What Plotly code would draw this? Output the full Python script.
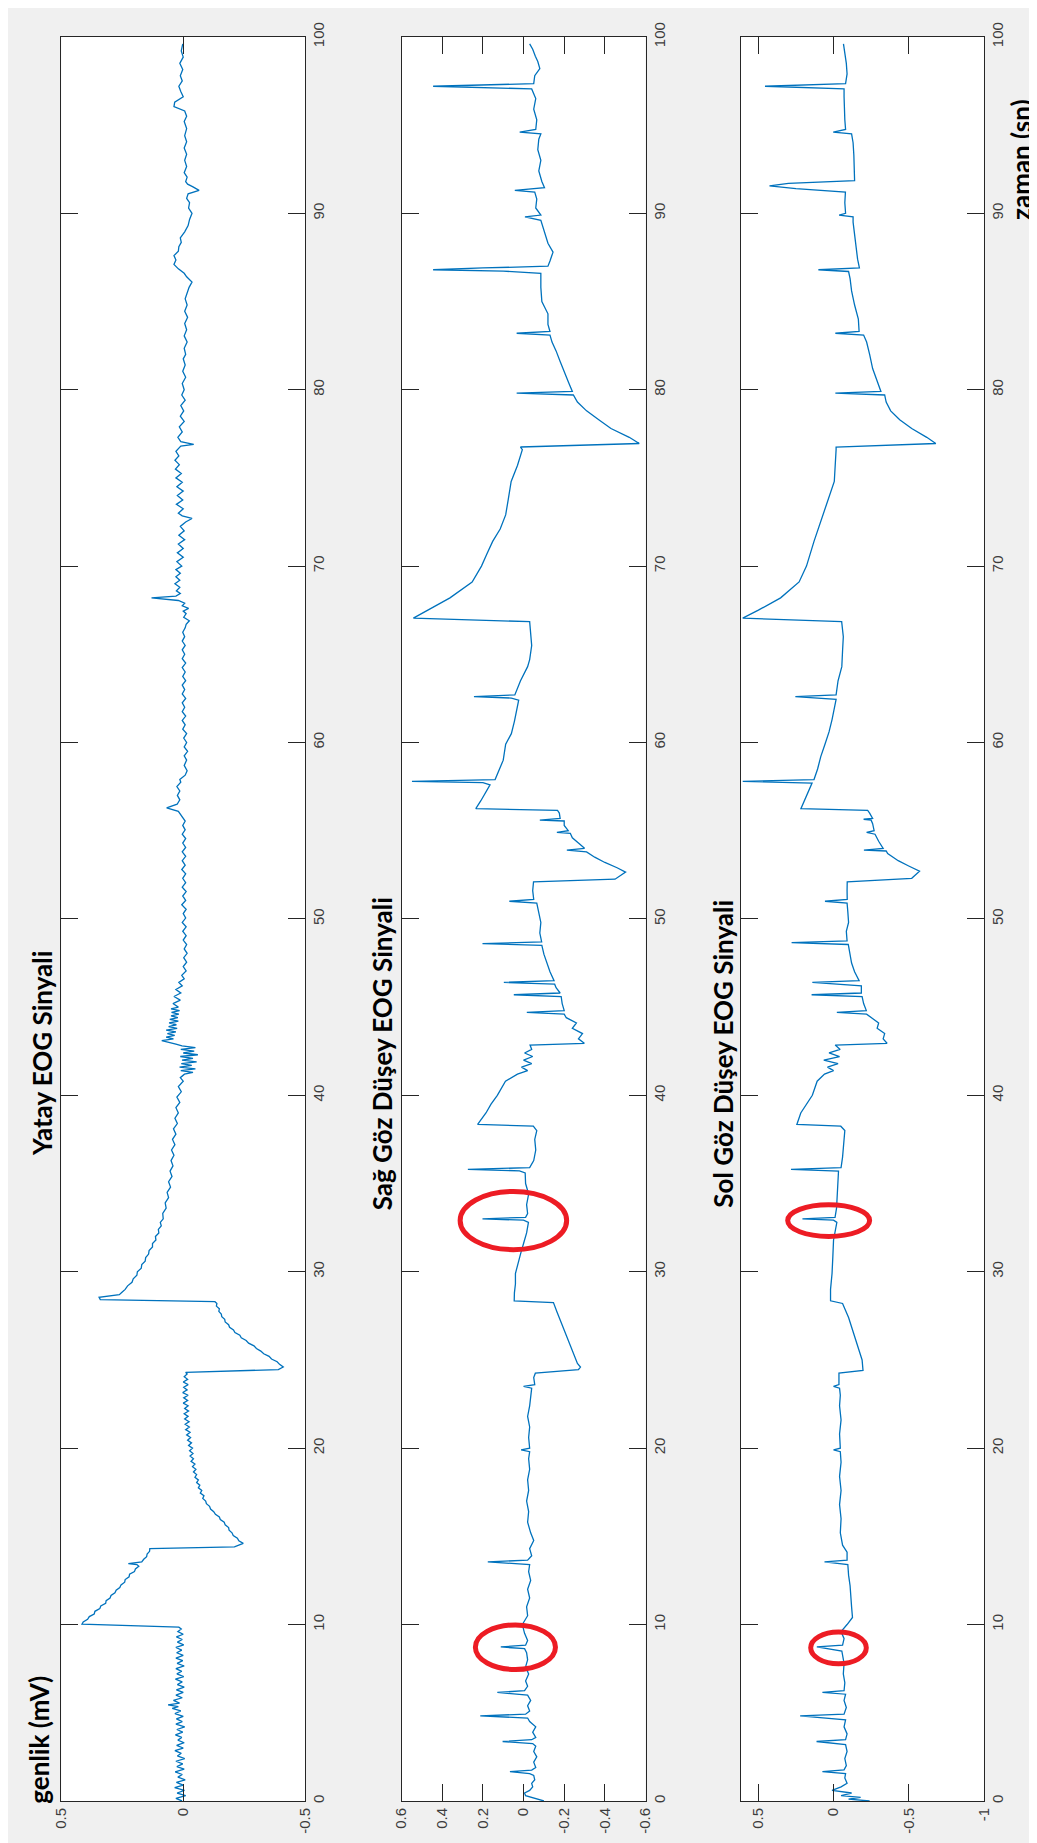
import plotly.graph_objects as go

# ---------------- data (time in s, amplitude in mV) ----------------
yatay_points = [
    (0.0, 0.005), (0.15, 0.03), (0.3, -0.01), (0.45, 0.025), (0.6, -0.005), (0.75, 0.035), (0.9, 0.0),
    (1.05, 0.028), (1.2, -0.008), (1.35, 0.022), (1.5, 0.004), (1.65, 0.033), (1.8, -0.004), (1.95, 0.026),
    (2.1, 0.002), (2.25, 0.03), (2.4, -0.006), (2.55, 0.024), (2.7, 0.008), (2.85, 0.034), (3.0, 0.0),
    (3.15, 0.027), (3.3, -0.004), (3.45, 0.022), (3.6, 0.006), (3.75, 0.032), (3.9, 0.002), (4.05, 0.026),
    (4.2, -0.006), (4.35, 0.03), (4.5, 0.004), (4.65, 0.028), (4.8, 0.0), (4.95, 0.034), (5.1, 0.01),
    (5.25, 0.045), (5.35, 0.02), (5.45, 0.062), (5.55, 0.015), (5.7, 0.04), (5.85, 0.004), (6.0, 0.03),
    (6.15, 0.0), (6.3, 0.028), (6.45, -0.004), (6.6, 0.024), (6.75, 0.004), (6.9, 0.032), (7.05, -0.002),
    (7.2, 0.026), (7.35, 0.006), (7.5, 0.03), (7.65, -0.004), (7.8, 0.025), (7.95, 0.002), (8.1, 0.03),
    (8.25, 0.0), (8.4, 0.027), (8.55, 0.006), (8.7, 0.03), (8.85, -0.002), (9.0, 0.024), (9.15, 0.004),
    (9.3, 0.028), (9.45, 0.0), (9.6, 0.022), (9.75, 0.008), (9.85, 0.018),
    (10.02, 0.415), (10.15, 0.41), (10.3, 0.392), (10.45, 0.385), (10.6, 0.365), (10.75, 0.362),
    (10.9, 0.342), (11.05, 0.338), (11.2, 0.318), (11.35, 0.316), (11.5, 0.3), (11.65, 0.296),
    (11.8, 0.28), (11.95, 0.275), (12.1, 0.26), (12.25, 0.255), (12.4, 0.24), (12.55, 0.238),
    (12.7, 0.222), (12.85, 0.22), (13.0, 0.2), (13.15, 0.196), (13.3, 0.182), (13.4, 0.19),
    (13.45, 0.225), (13.55, 0.17), (13.7, 0.162), (13.85, 0.15), (14.0, 0.148), (14.15, 0.138),
    (14.3, 0.137),
    (14.4, -0.21), (14.6, -0.246), (14.75, -0.228), (14.9, -0.222), (15.05, -0.205), (15.2, -0.2),
    (15.35, -0.188), (15.5, -0.186), (15.65, -0.172), (15.8, -0.168), (15.95, -0.152), (16.1, -0.148),
    (16.25, -0.132), (16.4, -0.125), (16.55, -0.112), (16.7, -0.108), (16.85, -0.095), (17.0, -0.092),
    (17.15, -0.08), (17.3, -0.085), (17.45, -0.07), (17.6, -0.076), (17.75, -0.062), (17.9, -0.068),
    (18.05, -0.055), (18.2, -0.062), (18.35, -0.048), (18.5, -0.055), (18.65, -0.042), (18.8, -0.052),
    (18.95, -0.038), (19.1, -0.048), (19.25, -0.032), (19.4, -0.042), (19.55, -0.028), (19.7, -0.04),
    (19.85, -0.026), (20.0, -0.038), (20.15, -0.022), (20.3, -0.034), (20.45, -0.018), (20.6, -0.03),
    (20.75, -0.014), (20.9, -0.028), (21.05, -0.01), (21.2, -0.025), (21.35, -0.008), (21.5, -0.024),
    (21.65, -0.006), (21.8, -0.02), (21.95, -0.004), (22.1, -0.022), (22.25, -0.006), (22.4, -0.02),
    (22.55, 0.0), (22.7, -0.018), (22.85, -0.002), (23.0, -0.02), (23.15, 0.002), (23.3, -0.016),
    (23.45, -0.002), (23.6, -0.02), (23.75, 0.0), (23.9, -0.018), (24.05, -0.004), (24.2, -0.016),
    (24.3, -0.01),
    (24.45, -0.39), (24.6, -0.41), (24.75, -0.395), (24.9, -0.385), (25.05, -0.362), (25.2, -0.352),
    (25.35, -0.33), (25.5, -0.318), (25.65, -0.3), (25.8, -0.29), (25.95, -0.268), (26.1, -0.258),
    (26.25, -0.238), (26.4, -0.232), (26.55, -0.212), (26.7, -0.206), (26.85, -0.19), (27.0, -0.186),
    (27.15, -0.172), (27.3, -0.17), (27.45, -0.158), (27.6, -0.156), (27.75, -0.146), (27.9, -0.148),
    (28.05, -0.136), (28.2, -0.138), (28.3, -0.13),
    (28.42, 0.34), (28.55, 0.345), (28.7, 0.262), (28.85, 0.25), (29.0, 0.238), (29.2, 0.228),
    (29.4, 0.21), (29.6, 0.205), (29.8, 0.19), (30.0, 0.188), (30.2, 0.172), (30.4, 0.17), (30.6, 0.156),
    (30.8, 0.154), (31.0, 0.142), (31.2, 0.14), (31.4, 0.126), (31.6, 0.126), (31.8, 0.112),
    (32.0, 0.114), (32.2, 0.1), (32.4, 0.102), (32.6, 0.09), (32.8, 0.094), (33.0, 0.082), (33.3, 0.084),
    (33.6, 0.07), (33.9, 0.074), (34.2, 0.06), (34.5, 0.066), (34.8, 0.052), (35.1, 0.06), (35.4, 0.046),
    (35.7, 0.054), (36.0, 0.042), (36.3, 0.05), (36.6, 0.038), (36.9, 0.048), (37.2, 0.034),
    (37.5, 0.044), (37.8, 0.03), (38.1, 0.04), (38.4, 0.024), (38.7, 0.034), (39.0, 0.02), (39.3, 0.03),
    (39.6, 0.014), (39.9, 0.026), (40.2, 0.008), (40.5, 0.02), (40.8, 0.0), (41.0, 0.012), (41.2, -0.005),
    (41.3, -0.04), (41.4, 0.01), (41.5, -0.05), (41.6, 0.015), (41.7, -0.035), (41.8, 0.008),
    (41.9, -0.055), (42.0, 0.005), (42.1, -0.04), (42.2, 0.012), (42.3, -0.06), (42.4, 0.0),
    (42.5, -0.045), (42.6, 0.01), (42.7, -0.05), (42.8, 0.005), (42.9, 0.03), (43.0, 0.06),
    (43.1, 0.088), (43.2, 0.04), (43.3, 0.07), (43.4, 0.035), (43.5, 0.065), (43.6, 0.03), (43.7, 0.07),
    (43.8, 0.025), (43.9, 0.06), (44.0, 0.028), (44.1, 0.058), (44.2, 0.02), (44.3, 0.055),
    (44.4, 0.022), (44.5, 0.05), (44.6, 0.018), (44.7, 0.048), (44.8, 0.015), (44.9, 0.05), (45.0, 0.02),
    (45.2, 0.042), (45.4, 0.012), (45.6, 0.038), (45.8, 0.01), (46.0, 0.03), (46.2, 0.004), (46.4, 0.018),
    (46.6, -0.004), (46.8, 0.006), (47.05, -0.012), (47.3, 0.0), (47.55, -0.014), (47.8, -0.002),
    (48.05, -0.016), (48.3, -0.004), (48.55, -0.014), (48.8, 0.0), (49.05, -0.012), (49.3, 0.002),
    (49.55, -0.012), (49.8, 0.004), (50.05, -0.01), (50.3, 0.0), (50.55, -0.012), (50.8, 0.006),
    (51.05, -0.01), (51.3, 0.002), (51.55, -0.012), (51.8, 0.004), (52.05, -0.01), (52.3, 0.002),
    (52.55, -0.01), (52.8, 0.006), (53.05, -0.008), (53.3, 0.004), (53.55, -0.01), (53.8, 0.004),
    (54.05, -0.01), (54.3, 0.002), (54.55, -0.01), (54.8, 0.004), (55.05, -0.008), (55.3, 0.002),
    (55.55, -0.008), (55.8, 0.006), (56.1, 0.02), (56.3, 0.068), (56.5, 0.025), (56.75, 0.014),
    (57.0, 0.024), (57.25, 0.014), (57.5, 0.026), (57.75, 0.01), (57.9, 0.014), (58.15, -0.008),
    (58.4, -0.016), (58.7, -0.004), (59.0, -0.014), (59.25, -0.004), (59.5, -0.018), (59.75, -0.004),
    (60.0, -0.014), (60.25, -0.002), (60.5, -0.014), (60.75, 0.002), (61.0, -0.008), (61.25, 0.004),
    (61.5, -0.01), (61.75, 0.004), (62.0, -0.006), (62.25, 0.004), (62.5, -0.01), (62.75, 0.004),
    (63.0, -0.006), (63.25, 0.004), (63.5, -0.01), (63.75, 0.002), (64.0, -0.008), (64.25, 0.004),
    (64.5, -0.01), (64.75, 0.004), (65.0, -0.006), (65.25, 0.004), (65.5, -0.008), (65.75, 0.004),
    (66.0, -0.006), (66.25, 0.002), (66.5, -0.008), (66.7, -0.012), (66.9, -0.025), (67.1, -0.002),
    (67.3, -0.012), (67.45, 0.0), (67.6, -0.022), (67.75, 0.004), (67.9, -0.006), (68.05, 0.02),
    (68.2, 0.13), (68.3, 0.03), (68.45, 0.012), (68.6, 0.028), (68.8, 0.014), (69.0, 0.034),
    (69.2, 0.014), (69.4, 0.03), (69.6, 0.012), (69.8, 0.03), (70.0, 0.006), (70.25, 0.026),
    (70.5, 0.0), (70.75, 0.024), (71.0, 0.0), (71.25, 0.02), (71.5, -0.006), (71.75, 0.018),
    (72.0, -0.004), (72.25, 0.012), (72.5, -0.01), (72.7, -0.036), (72.85, 0.004), (73.0, 0.02),
    (73.25, 0.0), (73.5, 0.028), (73.75, 0.002), (74.0, 0.024), (74.25, 0.0), (74.5, 0.026),
    (74.75, 0.004), (75.0, 0.03), (75.25, 0.008), (75.5, 0.032), (75.75, 0.016), (76.0, 0.034),
    (76.25, 0.018), (76.5, 0.03), (76.8, 0.01), (76.9, -0.043), (77.05, 0.01), (77.3, 0.022),
    (77.6, 0.004), (77.9, 0.016), (78.2, -0.004), (78.5, 0.012), (78.8, -0.002), (79.1, 0.01),
    (79.4, -0.008), (79.7, 0.006), (80.0, -0.004), (80.35, 0.004), (80.7, -0.01), (81.05, 0.002),
    (81.4, -0.008), (81.75, 0.0), (82.0, -0.01), (82.35, -0.004), (82.7, -0.016), (83.05, -0.004),
    (83.4, -0.014), (83.75, -0.006), (84.1, -0.018), (84.45, -0.006), (84.8, -0.016), (85.15, -0.008),
    (85.5, -0.016), (85.8, -0.024), (86.1, -0.036), (86.4, -0.014), (86.6, -0.004), (86.85, 0.02),
    (87.1, 0.038), (87.35, 0.03), (87.6, 0.038), (87.85, 0.02), (88.1, 0.018), (88.35, 0.008),
    (88.6, 0.012), (88.95, -0.006), (89.3, -0.02), (89.65, -0.026), (90.0, -0.036), (90.3, -0.022),
    (90.6, -0.026), (90.85, -0.014), (91.1, -0.02), (91.3, -0.065), (91.5, -0.04), (91.65, -0.018),
    (91.8, -0.01), (92.05, -0.016), (92.3, -0.004), (92.65, -0.014), (93.0, -0.006), (93.35, -0.014),
    (93.7, -0.004), (94.05, -0.014), (94.4, -0.006), (94.8, -0.014), (95.2, -0.004), (95.5, -0.014),
    (95.8, -0.006), (96.05, 0.038), (96.3, 0.035), (96.6, 0.0), (96.9, 0.01), (97.2, 0.018),
    (97.5, 0.004), (97.8, 0.012), (98.15, 0.002), (98.5, 0.014), (98.85, 0.0), (99.2, 0.008),
    (99.6, 0.002),
]

sag_points = [
    (0.0, -0.10), (0.15, -0.06), (0.3, -0.01), (0.45, -0.005), (0.6, -0.03), (0.8, -0.045), (1.0, -0.04),
    (1.2, -0.055), (1.45, -0.05), (1.55, -0.03), (1.66, 0.067), (1.75, -0.04), (1.9, -0.06), (2.2, -0.05),
    (2.5, -0.065), (2.8, -0.05), (3.1, -0.06), (3.25, -0.045), (3.37, 0.103), (3.47, -0.04), (3.6, -0.06),
    (3.9, -0.045), (4.2, -0.06), (4.5, -0.03), (4.7, -0.02), (4.82, 0.213), (4.92, -0.01), (5.1, -0.03),
    (5.4, -0.02), (5.7, -0.035), (6.0, -0.02), (6.15, 0.129), (6.25, -0.005), (6.5, -0.02), (6.8, -0.01),
    (7.2, -0.025), (7.6, -0.01), (8.0, -0.02), (8.4, -0.015), (8.63, -0.005), (8.73, 0.112), (8.83, -0.01),
    (9.1, -0.02), (9.5, -0.005), (10.0, 0.006), (10.5, -0.02), (11.0, -0.015), (11.5, -0.03), (12.0, -0.02),
    (12.5, -0.035), (13.0, -0.025), (13.4, -0.03), (13.55, 0.176), (13.65, -0.02), (13.9, -0.04),
    (14.3, -0.03), (14.76, -0.05), (15.2, -0.035), (15.8, -0.02), (16.4, -0.025), (17.0, -0.015),
    (17.6, -0.025), (18.2, -0.02), (18.8, -0.03), (19.4, -0.025), (19.8, -0.03), (19.9, 0.012),
    (20.0, -0.03), (20.6, -0.025), (21.2, -0.03), (21.8, -0.02), (22.4, -0.03), (23.0, -0.035),
    (23.4, -0.04), (23.5, 0.0), (23.6, -0.055), (24.0, -0.05), (24.25, -0.058),
    (24.45, -0.27), (24.6, -0.28), (24.8, -0.265), (25.5, -0.24), (26.3, -0.215), (27.0, -0.19),
    (27.7, -0.165), (28.25, -0.147),
    (28.35, 0.046), (28.8, 0.045), (29.3, 0.04), (29.9, 0.04), (30.4, 0.03), (31.0, 0.015), (31.6, 0.0),
    (32.2, -0.015), (32.8, -0.024), (32.92, 0.0), (33.0, 0.202), (33.08, -0.01), (33.3, -0.02),
    (33.8, -0.015), (34.4, -0.025), (35.0, -0.01), (35.6, -0.008), (35.72, 0.02), (35.8, 0.274),
    (35.9, -0.03), (36.3, -0.05), (36.9, -0.06), (37.5, -0.055), (38.0, -0.065), (38.25, -0.048),
    (38.35, 0.226), (39.0, 0.185), (39.5, 0.16), (40.0, 0.129), (40.8, 0.089), (41.2, 0.03),
    (41.4, -0.02), (41.6, 0.01), (41.8, -0.04), (42.0, 0.0), (42.2, -0.045), (42.4, -0.005),
    (42.6, -0.04), (42.85, -0.032),
    (42.95, -0.299), (43.2, -0.27), (43.5, -0.29), (43.8, -0.24), (44.1, -0.26), (44.4, -0.21),
    (44.6, -0.2), (44.7, -0.016), (44.8, -0.2), (45.2, -0.19), (45.6, -0.185), (45.7, 0.048),
    (45.8, -0.18), (46.1, -0.16), (46.3, -0.153), (46.4, 0.097), (46.5, -0.15), (47.0, -0.13),
    (47.5, -0.115), (48.0, -0.1), (48.5, -0.09), (48.6, 0.202), (48.7, -0.089), (49.2, -0.08),
    (49.8, -0.085), (50.4, -0.075), (50.9, -0.065), (51.0, 0.07), (51.1, -0.05), (51.6, -0.045),
    (52.1, -0.049),
    (52.25, -0.45), (52.65, -0.502), (52.9, -0.46), (53.2, -0.4), (53.5, -0.35), (53.8, -0.31),
    (53.9, -0.213), (54.0, -0.3), (54.3, -0.27), (54.6, -0.24), (54.85, -0.23), (54.9, -0.164),
    (55.0, -0.22), (55.3, -0.2), (55.55, -0.2), (55.6, -0.08), (55.7, -0.18), (56.0, -0.176),
    (56.15, -0.167),
    (56.25, 0.235), (56.7, 0.21), (57.1, 0.19), (57.6, 0.165), (57.72, 0.2), (57.8, 0.549), (57.9, 0.14),
    (58.3, 0.125), (59.0, 0.1), (59.9, 0.088), (60.5, 0.06), (61.2, 0.045), (61.8, 0.035), (62.4, 0.024),
    (62.52, 0.06), (62.6, 0.244), (62.7, 0.043), (63.5, 0.015), (64.3, -0.02), (64.7, -0.03),
    (65.5, -0.04), (66.2, -0.035), (66.85, -0.03),
    (67.05, 0.542), (67.5, 0.472), (68.2, 0.362), (69.1, 0.253), (70.0, 0.207), (70.7, 0.18),
    (71.4, 0.152), (72.1, 0.115), (72.9, 0.088), (73.8, 0.075), (74.8, 0.061), (75.7, 0.03),
    (76.6, 0.006), (76.75, 0.015),
    (76.95, -0.569), (77.3, -0.52), (77.8, -0.43), (78.3, -0.37), (78.8, -0.31), (79.3, -0.265),
    (79.7, -0.245), (79.8, 0.034), (79.9, -0.24), (80.4, -0.222), (81.0, -0.2), (81.6, -0.18),
    (82.2, -0.16), (82.7, -0.14), (83.1, -0.13), (83.2, 0.034), (83.3, -0.13), (83.7, -0.12),
    (84.3, -0.12), (85.0, -0.09), (85.8, -0.085), (86.6, -0.085), (86.72, 0.1), (86.8, 0.445),
    (86.9, 0.2), (87.0, -0.12), (87.3, -0.13), (87.8, -0.145), (88.3, -0.12), (89.0, -0.1),
    (89.6, -0.085), (89.8, -0.007), (89.9, -0.085), (90.3, -0.06), (90.8, -0.065), (91.2, -0.055),
    (91.3, 0.043), (91.45, -0.103), (91.8, -0.09), (92.4, -0.075), (93.0, -0.085), (93.6, -0.07),
    (94.2, -0.075), (94.5, -0.085), (94.6, 0.019), (94.75, -0.06), (95.3, -0.065), (95.9, -0.05),
    (96.5, -0.06), (97.05, -0.04), (97.2, 0.445), (97.35, -0.05), (97.8, -0.055), (98.2, -0.08),
    (98.6, -0.07), (98.9, -0.058), (99.3, -0.045), (99.6, -0.03),
]

sol_points = [
    (0.0, -0.24), (0.1, -0.1), (0.2, -0.18), (0.3, -0.05), (0.45, -0.12), (0.6, 0.01), (0.8, -0.05),
    (1.0, -0.09), (1.3, -0.075), (1.55, -0.08), (1.66, 0.074), (1.76, -0.07), (2.0, -0.085), (2.4, -0.075),
    (2.8, -0.09), (3.2, -0.08), (3.37, 0.113), (3.47, -0.08), (3.8, -0.09), (4.2, -0.07), (4.6, -0.08),
    (4.82, 0.222), (4.92, -0.07), (5.3, -0.085), (5.7, -0.07), (6.05, -0.08), (6.15, 0.074), (6.25, -0.07),
    (6.7, -0.075), (7.2, -0.065), (7.8, -0.07), (8.5, -0.055), (8.73, 0.111), (8.83, -0.06), (9.2, -0.07),
    (9.6, -0.05), (10.0, -0.09), (10.4, -0.126), (11.0, -0.12), (11.6, -0.115), (12.2, -0.11),
    (12.8, -0.1), (13.4, -0.095), (13.55, 0.06), (13.65, -0.09), (14.1, -0.09), (14.5, -0.06),
    (15.2, -0.045), (16.0, -0.05), (16.8, -0.04), (17.6, -0.05), (18.4, -0.04), (19.2, -0.05),
    (19.8, -0.045), (19.9, 0.0), (20.0, -0.045), (20.8, -0.04), (21.6, -0.05), (22.4, -0.04),
    (23.0, -0.045), (23.4, -0.04), (23.5, 0.0), (23.6, -0.036), (24.25, -0.036),
    (24.4, -0.196), (25.0, -0.19), (25.8, -0.16), (26.6, -0.13), (27.4, -0.1), (28.2, -0.06),
    (28.35, 0.02), (29.0, 0.02), (29.9, 0.01), (30.8, 0.005), (31.8, 0.0), (32.8, -0.022), (32.92, 0.0),
    (33.0, 0.207), (33.08, -0.01), (33.6, -0.02), (34.4, -0.025), (35.2, -0.03), (35.7, -0.033),
    (35.8, 0.283), (35.9, -0.05), (36.5, -0.06), (37.3, -0.07), (38.0, -0.075), (38.25, -0.048),
    (38.35, 0.244), (39.0, 0.218), (40.0, 0.141), (40.8, 0.109), (41.2, 0.06), (41.4, 0.0), (41.6, 0.04),
    (41.8, -0.03), (42.0, 0.065), (42.2, -0.04), (42.4, 0.03), (42.6, -0.044), (42.85, -0.011),
    (42.95, -0.356), (43.2, -0.33), (43.5, -0.34), (43.8, -0.29), (44.1, -0.3), (44.4, -0.25),
    (44.6, -0.22), (44.7, -0.022), (44.8, -0.218), (45.2, -0.2), (45.6, -0.19), (45.7, 0.146),
    (45.8, -0.185), (46.2, -0.185), (46.4, 0.141), (46.5, -0.17), (47.0, -0.14), (47.5, -0.12),
    (48.0, -0.11), (48.55, -0.098), (48.65, 0.279), (48.75, -0.09), (49.3, -0.085), (49.8, -0.1),
    (50.4, -0.095), (50.9, -0.09), (51.0, 0.057), (51.1, -0.091), (51.6, -0.09), (52.1, -0.091),
    (52.3, -0.52), (52.7, -0.572), (53.0, -0.5), (53.3, -0.43), (53.7, -0.36), (53.85, -0.35),
    (53.9, -0.202), (54.0, -0.33), (54.4, -0.3), (54.8, -0.276), (54.9, -0.22), (55.0, -0.27),
    (55.4, -0.26), (55.6, -0.25), (55.65, -0.2), (55.7, -0.26), (56.0, -0.24), (56.15, -0.227),
    (56.25, 0.217), (56.8, 0.19), (57.3, 0.165), (57.7, 0.143), (57.8, 0.604), (57.9, 0.13), (58.5, 0.106),
    (59.2, 0.085), (59.9, 0.057), (60.6, 0.03), (61.3, 0.01), (62.0, -0.005), (62.45, -0.017),
    (62.6, 0.254), (62.7, -0.017), (63.5, -0.03), (64.3, -0.055), (65.2, -0.06), (66.0, -0.065),
    (66.85, -0.054),
    (67.05, 0.604), (67.5, 0.5), (68.2, 0.352), (69.1, 0.229), (70.0, 0.18), (71.4, 0.13), (72.9, 0.069),
    (74.8, -0.005), (76.6, -0.017), (76.75, -0.017),
    (76.95, -0.68), (77.3, -0.62), (77.8, -0.52), (78.3, -0.44), (78.8, -0.38), (79.3, -0.35),
    (79.7, -0.34), (79.8, -0.012), (79.9, -0.315), (80.5, -0.29), (81.2, -0.26), (82.0, -0.24),
    (82.7, -0.22), (83.1, -0.2), (83.2, -0.012), (83.3, -0.17), (84.0, -0.165), (84.8, -0.14),
    (85.6, -0.12), (86.3, -0.11), (86.7, -0.1), (86.8, 0.101), (86.9, -0.172), (87.4, -0.16),
    (88.0, -0.15), (88.8, -0.14), (89.5, -0.13), (89.8, -0.13), (89.9, -0.037), (90.0, -0.08),
    (90.6, -0.075), (91.2, -0.079), (91.4, 0.25), (91.55, 0.426), (91.7, 0.3), (91.85, -0.14),
    (92.6, -0.14), (93.3, -0.135), (94.0, -0.13), (94.5, -0.12), (94.6, 0.002), (94.75, -0.08),
    (95.3, -0.075), (96.0, -0.07), (96.6, -0.07), (97.05, -0.07), (97.2, 0.456), (97.35, -0.08),
    (97.9, -0.09), (98.5, -0.085), (99.0, -0.075), (99.6, -0.066),
]

titles = ["Yatay EOG Sinyali", "Sağ Göz Düşey EOG Sinyali", "Sol Göz Düşey EOG Sinyali"]
amp_ranges = [(0.5, -0.5), (0.6, -0.6), (0.616, -1.0)]
amp_ticks = [[0.5, 0, -0.5], [0.6, 0.4, 0.2, 0, -0.2, -0.4, -0.6], [0.5, 0, -0.5, -1]]
amp_ticktext = [["0.5", "0", "-0.5"], ["0.6", "0.4", "0.2", "0", "-0.2", "-0.4", "-0.6"],
                ["0.5", "0", "-0.5", "-1"]]
time_ticks = [0, 10, 20, 30, 40, 50, 60, 70, 80, 90, 100]
# highlighted blinks: (panel, amp_left, amp_right, t_low, t_high)
circles = [(2, 0.312, -0.212, 31.25, 34.55), (2, 0.237, -0.157, 7.45, 9.98),
           (3, 0.305, -0.24, 32.0, 33.8), (3, 0.152, -0.218, 7.78, 9.58)]

# ---------------- figure ----------------
W, H = 1037, 1843
panel_px = [(45, 293), (391, 639), (736, 983)]
y_dom = [1 - 1794.5 / H, 1 - 14 / H]
AX = "#262626"
tick_font = dict(family="Liberation Sans, Arial, sans-serif", size=15, color="#3c3c3c")
bold_font = dict(family="Lato, Calibri, sans-serif", size=26, color="#000000")

fig = go.Figure()
series = [yatay_points, sag_points, sol_points]
layout = dict(width=W, height=H, autosize=False, margin=dict(l=0, r=0, t=0, b=0),
              paper_bgcolor="#f0f0f0", plot_bgcolor="#ffffff", showlegend=False)

for i, pts in enumerate(series):
    n = "" if i == 0 else str(i + 1)
    t = [p[0] for p in pts]
    v = [p[1] for p in pts]
    fig.add_trace(go.Scatter(x=v, y=t, mode="lines", xaxis="x" + n, yaxis="y" + n,
                             line=dict(color="#0072BD", width=1.3), hoverinfo="skip"))
    x0, x1 = panel_px[i]
    common = dict(tickmode="array", tickangle=-90, ticks="inside", ticklen=17, tickcolor=AX,
                  tickwidth=1, showline=True, linecolor=AX, linewidth=1, mirror="ticks",
                  showgrid=False, zeroline=False, tickfont=tick_font, fixedrange=True,
                  ticklabeloverflow="allow")
    layout["xaxis" + n] = dict(domain=[x0 / W, x1 / W], range=list(amp_ranges[i]), anchor="y" + n,
                               tickvals=amp_ticks[i], ticktext=amp_ticktext[i], **common)
    layout["yaxis" + n] = dict(domain=y_dom, range=[0, 100], anchor="x" + n, side="right",
                               tickvals=time_ticks, ticktext=[str(k) for k in time_ticks], **common)

annotations = []
title_x = [26, 372, 718]
for i, ttl in enumerate(titles):
    annotations.append(dict(text="<b>%s</b>" % ttl, xref="paper", yref="paper", x=title_x[i] / W,
                            y=1 - 1040 / H, xanchor="center", yanchor="middle", textangle=-90,
                            showarrow=False, font=bold_font))
annotations.append(dict(text="<b>genlik (mV)</b>", xref="paper", yref="paper", x=22 / W, y=1 - 1733 / H,
                        xanchor="center", yanchor="middle", textangle=-90, showarrow=False, font=bold_font))
annotations.append(dict(text="<b>zaman (sn)</b>", xref="paper", yref="paper", x=1020 / W, y=1 - 138 / H,
                        xanchor="center", yanchor="middle", textangle=-90, showarrow=False, font=bold_font))
layout["annotations"] = annotations

shapes = []
for (p, a0, a1, t0, t1) in circles:
    n = "" if p == 1 else str(p)
    shapes.append(dict(type="circle", xref="x" + n, yref="y" + n, x0=a0, x1=a1, y0=t0, y1=t1,
                       line=dict(color="#ED1C24", width=5)))
layout["shapes"] = shapes

fig.update_layout(**layout)
fig.write_html("out.html")
